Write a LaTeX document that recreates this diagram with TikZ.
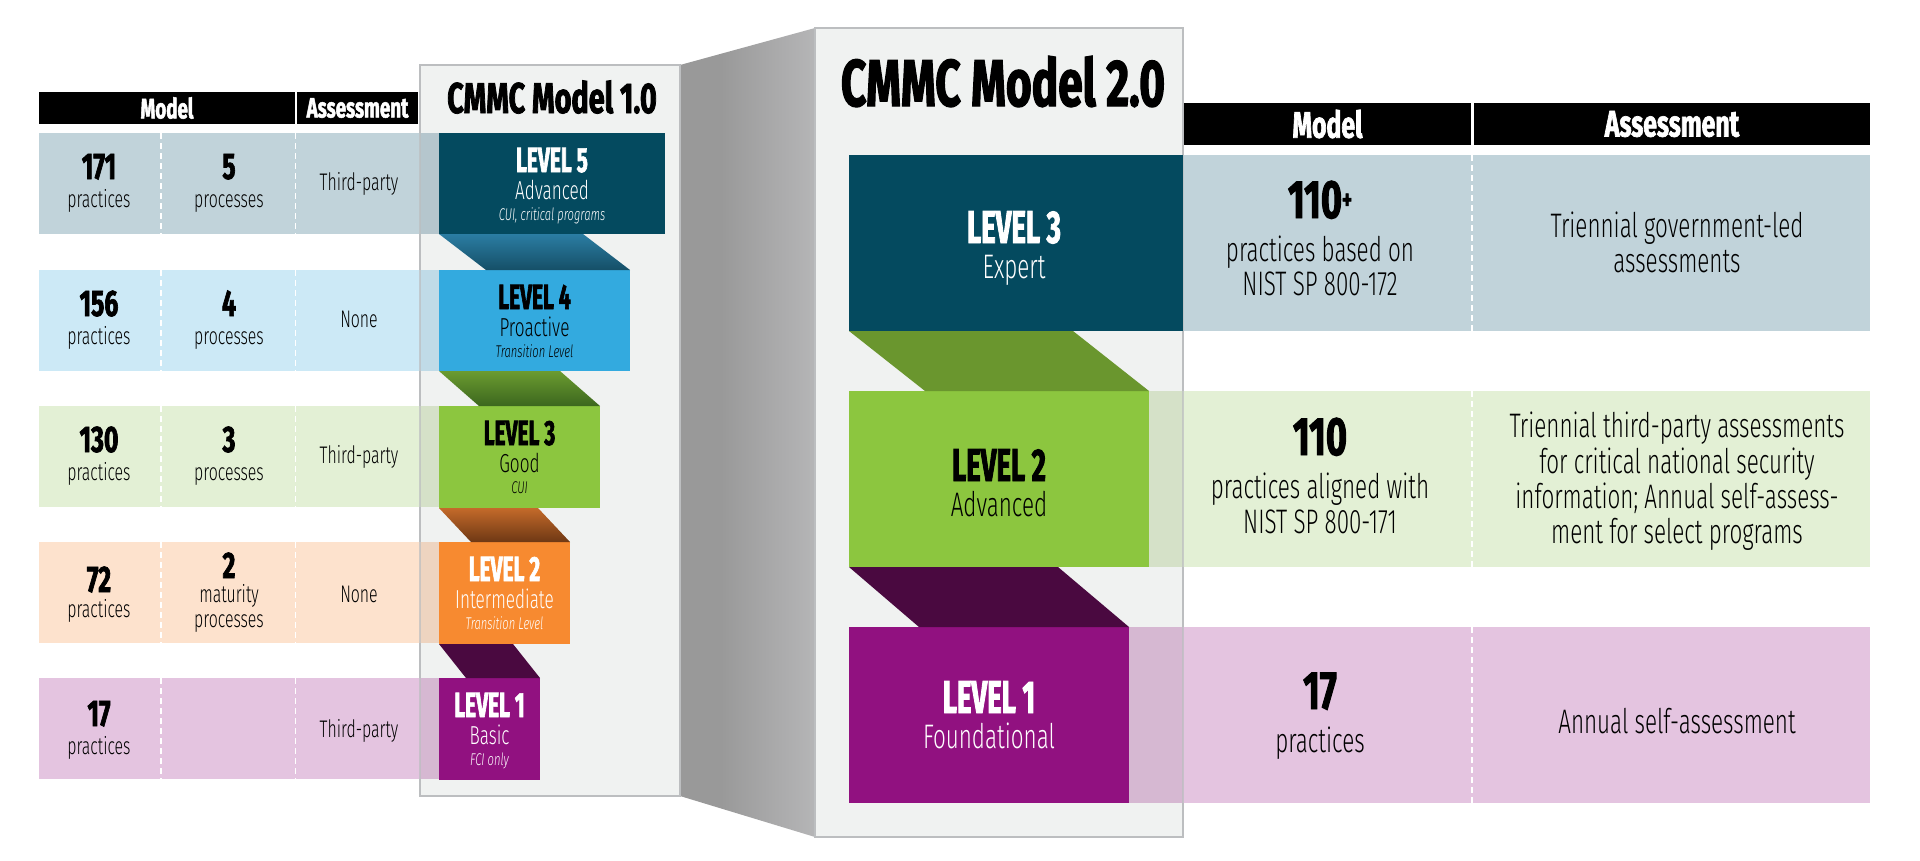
\documentclass[tikz,border=0pt]{standalone}
\usepackage{fontspec}
\setmainfont{Fira Sans}
\newfontfamily\rcond{Fira Sans}[UprightFont=* Light, ItalicFont=* Light Italic, FakeStretch=0.66]
\newfontfamily\bcond{Fira Sans}[FakeStretch=0.6, BoldFeatures={FakeBold=1.8}]
\newfontfamily\bwide{Fira Sans}[FakeStretch=0.67, BoldFeatures={FakeBold=1.8}]
\definecolor{teal5}{HTML}{044A5F}
\definecolor{row5}{HTML}{C1D3DA}
\definecolor{blue4}{HTML}{33AADF}
\definecolor{row4}{HTML}{CCE9F6}
\definecolor{green3}{HTML}{8CC63F}
\definecolor{row3}{HTML}{E3F0D5}
\definecolor{orange2}{HTML}{F78A30}
\definecolor{row2}{HTML}{FDE2CD}
\definecolor{purple1}{HTML}{911180}
\definecolor{row1}{HTML}{E4C4E0}
\definecolor{darkpurple}{HTML}{4A0940}
\definecolor{greenconn}{HTML}{6A962E}
\definecolor{boxfill}{HTML}{F0F2F1}
\definecolor{boxline}{HTML}{BCBEC0}
\definecolor{foldA}{HTML}{999999}
\definecolor{foldB}{HTML}{ABABAC}
\definecolor{foldC}{HTML}{C8C9CB}
\definecolor{cAtop}{HTML}{2B7DA3}
\definecolor{cAbot}{HTML}{154F67}
\definecolor{cBtop}{HTML}{6B9B30}
\definecolor{cBbot}{HTML}{3C671E}
\definecolor{cCtop}{HTML}{C46A2A}
\definecolor{cCbot}{HTML}{6E3814}
\pgfdeclarehorizontalshading{foldshade}{100bp}{color(0bp)=(foldA); color(40bp)=(foldA); color(62bp)=(foldB); color(100bp)=(foldC)}
\usetikzlibrary{calc}
\begin{document}
\begin{tikzpicture}[x=1pt,y=-1pt,
  boxnode/.style={draw=none, inner sep=0pt, outer sep=0pt, anchor=north west},
  modelbox/.style={boxnode, fill=boxfill, draw=boxline, line width=1.5pt},
  hdr/.style={boxnode, fill=black, text=white},
  hdrsmall/.style={hdr, font=\bwide\bfseries\fontsize{28}{28}\selectfont},
  hdrbig/.style={hdr, font=\bwide\bfseries\fontsize{37}{37}\selectfont},
  dashdiv/.style={draw=white, line width=1.6pt, dash pattern=on 6pt off 4pt},
  txt/.style={anchor=base, inner sep=0pt, outer sep=0pt},
  num/.style={txt, font=\bwide\bfseries\fontsize{37}{37}\selectfont},
  lab/.style={txt, font=\rcond\fontsize{24}{24}\selectfont},
  lvtitle/.style={txt, font=\bcond\bfseries\fontsize{35}{35}\selectfont},
  lvsub/.style={txt, font=\rcond\fontsize{26}{26}\selectfont},
  lvnote/.style={txt, font=\rcond\itshape\fontsize{17}{17}\selectfont},
  bignum/.style={txt, font=\bwide\bfseries\fontsize{54}{54}\selectfont},
  biglab/.style={txt, font=\rcond\fontsize{34}{34}\selectfont},
  bigtitle/.style={txt, font=\bcond\bfseries\fontsize{46}{46}\selectfont},
  ]
\useasboundingbox (0,0) rectangle (1920,860);

% model boxes
\node[modelbox, minimum width=260pt, minimum height=731pt] (m1) at (420,65) {};
\node[modelbox, minimum width=368pt, minimum height=809pt] (m2) at (815,28) {};
\shade[shading=foldshade] (m1.north east) -- (m2.north west) -- (m2.south west) -- (m1.south east) -- cycle;
\draw[boxline, line width=1.5pt] (m1.north east) -- (m1.south east);
\draw[boxline, line width=1.5pt] (m2.north west) -- (m2.south west);

% titles
\node[txt, font=\bwide\bfseries\fontsize{43}{43}\selectfont] (t1) at (552,113) {CMMC Model 1.0};
\node[txt, font=\bwide\bfseries\fontsize{66}{66}\selectfont] (t2) at (1003,106) {CMMC Model 2.0};

% left headers
\node[hdrsmall, minimum width=256pt, minimum height=32pt] (hm1) at (39,92) {Model};
\node[hdrsmall, minimum width=121pt, minimum height=32pt] (ha1) at (297,92) {Assessment};

% left rows
\node[boxnode, fill=row5, minimum width=400pt, minimum height=101pt] (r5) at (39,133) {};
\node[boxnode, fill=row4, minimum width=400pt, minimum height=101pt] (r4) at (39,270) {};
\node[boxnode, fill=row3, minimum width=400pt, minimum height=101pt] (r3) at (39,406) {};
\node[boxnode, fill=row2, minimum width=400pt, minimum height=101pt] (r2) at (39,542) {};
\node[boxnode, fill=row1, minimum width=400pt, minimum height=101pt] (r1) at (39,678) {};
\foreach \r in {r5,r4,r3,r2,r1}{
  \fill[black, opacity=0.06] (m1.west |- \r.north) rectangle (\r.south east);
  \draw[dashdiv] ([xshift=122pt]\r.north west) -- ([xshift=122pt]\r.south west);
  \draw[dashdiv] ([xshift=256.5pt]\r.north west) -- ([xshift=256.5pt]\r.south west);
}
\draw[boxline, line width=1.5pt, opacity=0.7] (m1.north west) -- (m1.south west);

% left levels
\node[boxnode, fill=teal5, minimum width=226pt, minimum height=101pt] (l5) at (439,133) {};
\node[boxnode, fill=blue4, minimum width=191pt, minimum height=101pt] (l4) at (439,270) {};
\node[boxnode, fill=green3, minimum width=161pt, minimum height=102pt] (l3) at (439,406) {};
\node[boxnode, fill=orange2, minimum width=131pt, minimum height=102pt] (l2) at (439,542) {};
\node[boxnode, fill=purple1, minimum width=101pt, minimum height=102pt] (l1) at (439,678) {};

\shade[top color=cAtop, bottom color=cAbot] (l5.south west) -- ([xshift=-47pt]l4.north east |- l5.south) -- (l4.north east) -- ([xshift=47pt]l4.north west) -- cycle;
\shade[top color=cBtop, bottom color=cBbot] (l4.south west) -- ([xshift=-40pt]l3.north east |- l4.south) -- (l3.north east) -- ([xshift=40pt]l3.north west) -- cycle;
\shade[top color=cCtop, bottom color=cCbot] (l3.south west) -- ([xshift=-32pt]l2.north east |- l3.south) -- (l2.north east) -- ([xshift=32pt]l2.north west) -- cycle;
\fill[darkpurple] (l2.south west) -- ([xshift=-27pt]l1.north east |- l2.south) -- (l1.north east) -- ([xshift=27pt]l1.north west) -- cycle;

% left level texts
\node[lvtitle, text=white] (l5a) at (552,172) {LEVEL 5};
\node[lvsub, text=white] (l5b) at (552,199) {Advanced};
\node[lvnote, text=white] (l5c) at (552,220) {CUI, critical programs};
\node[lvtitle, text=black] (l4a) at (534.5,309) {LEVEL 4};
\node[lvsub, text=black] (l4b) at (534.5,336) {Proactive};
\node[lvnote, text=black] (l4c) at (534.5,357) {Transition Level};
\node[lvtitle, text=black] (l3a) at (519.5,445) {LEVEL 3};
\node[lvsub, text=black] (l3b) at (519.5,472) {Good};
\node[lvnote, text=black] (l3c) at (519.5,493) {CUI};
\node[lvtitle, text=white] (l2a) at (504.5,581) {LEVEL 2};
\node[lvsub, text=white] (l2b) at (504.5,608) {Intermediate};
\node[lvnote, text=white] (l2c) at (504.5,629) {Transition Level};
\node[lvtitle, text=white] (l1a) at (489.5,717) {LEVEL 1};
\node[lvsub, text=white] (l1b) at (489.5,744) {Basic};
\node[lvnote, text=white] (l1c) at (489.5,765) {FCI only};

% left row texts
\node[num] (n5a) at (99,179) {171};
\node[lab] (n5b) at (99,207) {practices};
\node[num] (n5c) at (229,179) {5};
\node[lab] (n5d) at (229,207) {processes};
\node[lab] (n5e) at (359,190) {Third-party};
\node[num] (n4a) at (99,316) {156};
\node[lab] (n4b) at (99,344) {practices};
\node[num] (n4c) at (229,316) {4};
\node[lab] (n4d) at (229,344) {processes};
\node[lab] (n4e) at (359,327) {None};
\node[num] (n3a) at (99,452) {130};
\node[lab] (n3b) at (99,480) {practices};
\node[num] (n3c) at (229,452) {3};
\node[lab] (n3d) at (229,480) {processes};
\node[lab] (n3e) at (359,463) {Third-party};
\node[num] (n2a) at (99,592) {72};
\node[lab] (n2b) at (99,617) {practices};
\node[num] (n2c) at (229,578) {2};
\node[lab] (n2d) at (229,602) {maturity};
\node[lab] (n2e) at (229,627) {processes};
\node[lab] (n2f) at (359,602) {None};
\node[num] (n1a) at (99,726) {17};
\node[lab] (n1b) at (99,754) {practices};
\node[lab] (n1e) at (359,737) {Third-party};

% right headers
\node[hdrbig, minimum width=287pt, minimum height=42pt] (hm2) at (1184,103) {Model};
\node[hdrbig, minimum width=396pt, minimum height=42pt] (ha2) at (1474,103) {Assessment};

% right rows
\node[boxnode, fill=row5, minimum width=687pt, minimum height=176pt] (q3) at (1183,155) {};
\node[boxnode, fill=row3, minimum width=721pt, minimum height=176pt] (q2) at (1149,391) {};
\node[boxnode, fill=row1, minimum width=741pt, minimum height=176pt] (q1) at (1129,627) {};
\fill[black, opacity=0.06] (q2.north west) rectangle (m2.east |- q2.south);
\fill[black, opacity=0.06] (q1.north west) rectangle (m2.east |- q1.south);
\foreach \r in {q3,q2,q1}{
  \draw[dashdiv] (1472,0 |- \r.north) -- (1472,0 |- \r.south);
}
\draw[boxline, line width=1.5pt, opacity=0.7] (m2.north east) -- (m2.south east);

% right levels
\node[boxnode, fill=teal5, minimum width=334pt, minimum height=176pt] (k3) at (849,155) {};
\node[boxnode, fill=green3, minimum width=300pt, minimum height=176pt] (k2) at (849,391) {};
\node[boxnode, fill=purple1, minimum width=280pt, minimum height=176pt] (k1) at (849,627) {};
\fill[greenconn] (k3.south west) -- ([xshift=-76pt]k2.north east |- k3.south) -- (k2.north east) -- ([xshift=76pt]k2.north west) -- cycle;
\fill[darkpurple] (k2.south west) -- ([xshift=-71pt]k1.north east |- k2.south) -- (k1.north east) -- ([xshift=70pt]k1.north west) -- cycle;

\node[bigtitle, text=white] (k3a) at (1014,243) {LEVEL 3};
\node[biglab, text=white] (k3b) at (1014,278) {Expert};
\node[bigtitle, text=black] (k2a) at (999,481) {LEVEL 2};
\node[biglab, text=black] (k2b) at (999,516) {Advanced};
\node[bigtitle, text=white] (k1a) at (989,713) {LEVEL 1};
\node[biglab, text=white] (k1b) at (989,748) {Foundational};

% right row texts
\node[bignum] (p3a) at (1320,218) {110\raisebox{9pt}{\fontsize{28}{28}\selectfont +}};
\node[biglab] (p3b) at (1320,261) {practices based on};
\node[biglab] (p3c) at (1320,295) {NIST SP 800-172};
\node[biglab] (p3d) at (1677,237) {Triennial government-led};
\node[biglab] (p3e) at (1677,272) {assessments};
\node[bignum] (p2a) at (1320,455) {110};
\node[biglab] (p2b) at (1320,498) {practices aligned with};
\node[biglab] (p2c) at (1320,533) {NIST SP 800-171};
\node[biglab] (p2d) at (1677,437) {Triennial third-party assessments};
\node[biglab] (p2e) at (1677,473) {for critical national security};
\node[biglab] (p2f) at (1677,508) {information; Annual self-assess-};
\node[biglab] (p2g) at (1677,543) {ment for select programs};
\node[bignum] (p1a) at (1320,709) {17};
\node[biglab] (p1b) at (1320,752) {practices};
\node[biglab] (p1c) at (1677,733) {Annual self-assessment};
\end{tikzpicture}
\end{document}
